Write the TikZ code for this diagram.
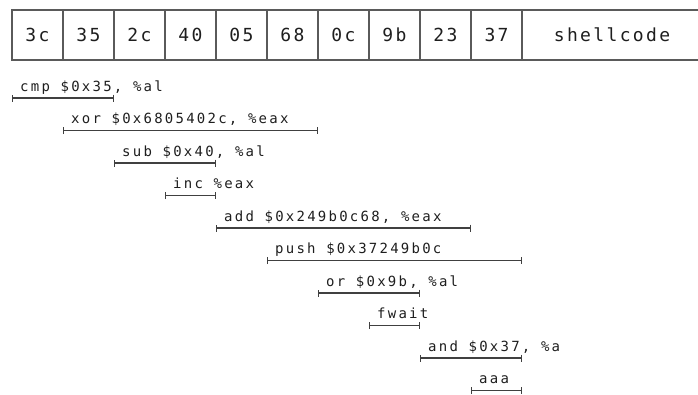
\documentclass[tikz,border=0pt]{standalone}
\usepackage{fontspec}
\newfontfamily\insnfont[LetterSpace=16]{DejaVu Sans Mono}
\newfontfamily\bytefont[LetterSpace=13]{DejaVu Sans Mono}
\usetikzlibrary{positioning,arrows.meta}
\definecolor{boxline}{HTML}{5A5A5A}
\definecolor{ink}{HTML}{1E1E1E}

\tikzset{
  byte/.style={draw=boxline, line width=1.4pt, outer sep=0pt, inner sep=0pt,
    minimum width=51pt, minimum height=50pt, text=ink,
    font=\bytefont\fontsize{18}{21}\selectfont},
  bracket/.style={draw=ink!85, line width=1.4pt, {Bar[width=7pt]}-{Bar[width=7pt]}},
  insntext/.style={anchor=base west, inner sep=0pt, text=ink,
    font=\insnfont\fontsize{14}{17}\selectfont}
}

% one instruction: name, first byte, last byte, row, text
\newcommand{\insn}[5]{%
  \coordinate (#1s) at (#2.west |- r#4);
  \coordinate (#1e) at (#3.east |- r#4);
  \draw[bracket] (#1s) -- (#1e);
  \node[insntext] (#1) at ([xshift=8pt,yshift=7pt]#1s) {#5};
}

\begin{document}
\begin{tikzpicture}[x=1pt,y=-1pt]
\useasboundingbox (0,0) rectangle (698,394);

% byte row
\node[byte, anchor=north west] (b0) at (12,10) {3c};
\node[byte, right=0pt of b0] (b1) {35};
\node[byte, right=0pt of b1] (b2) {2c};
\node[byte, right=0pt of b2] (b3) {40};
\node[byte, right=0pt of b3] (b4) {05};
\node[byte, right=0pt of b4] (b5) {68};
\node[byte, right=0pt of b5] (b6) {0c};
\node[byte, right=0pt of b6] (b7) {9b};
\node[byte, right=0pt of b7] (b8) {23};
\node[byte, right=0pt of b8] (b9) {37};
\node[byte, right=0pt of b9, minimum width=180pt] (sc) {shellcode};

% rows
\foreach \k in {0,...,9}
  \coordinate (r\k) at (0,98+32.5*\k);

\insn{cmp}{b0}{b1}{0}{cmp \$0x35, \%al}
\insn{xor}{b1}{b5}{1}{xor \$0x6805402c, \%eax}
\insn{sub}{b2}{b3}{2}{sub \$0x40, \%al}
\insn{inc}{b3}{b3}{3}{inc \%eax}
\insn{add}{b4}{b8}{4}{add \$0x249b0c68, \%eax}
\insn{push}{b5}{b9}{5}{push \$0x37249b0c}
\insn{or}{b6}{b7}{6}{or \$0x9b, \%al}
\insn{fwait}{b7}{b7}{7}{fwait}
\insn{and}{b8}{b9}{8}{and \$0x37, \%a}
\insn{aaa}{b9}{b9}{9}{aaa}
\end{tikzpicture}
\end{document}
